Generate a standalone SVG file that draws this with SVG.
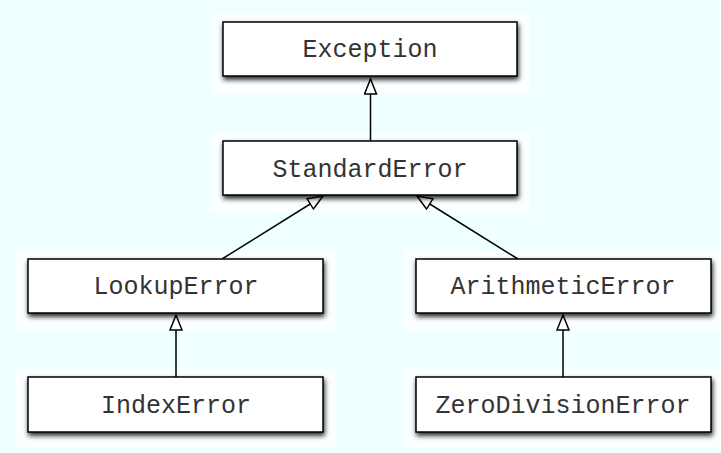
<svg xmlns="http://www.w3.org/2000/svg" width="721" height="453" viewBox="0 0 721 453">
<style>
.halo{fill:#fbffff;}
.box{fill:#ffffff;stroke:#000;stroke-width:1.5;filter:url(#sh);}
.lbl{font-family:"Liberation Mono","Courier New",monospace;font-size:25px;fill:#333;text-anchor:middle;}
.edge{stroke:#000;stroke-width:1.5;fill:none;marker-end:url(#tri);}
</style>
<defs>
<filter id="sh" x="-5%" y="-15%" width="112%" height="150%">
<feDropShadow dx="1" dy="3" stdDeviation="2.5" flood-color="#000" flood-opacity="0.85"/>
</filter>
<marker id="tri" markerUnits="userSpaceOnUse" markerWidth="18" markerHeight="15" viewBox="-1 -1 18 15" refX="15" refY="6" orient="auto">
<path d="M0,0 L15,6 L0,12 Z" fill="#fff" stroke="#000" stroke-width="1.5"/>
</marker>
</defs>
<rect x="0" y="0" width="721" height="453" fill="#f0ffff"/>
<g id="halos">
<rect class="halo" x="211" y="14" width="319" height="79"/>
<rect class="halo" x="211" y="133" width="319" height="79"/>
<rect class="halo" x="16" y="251" width="319" height="79"/>
<rect class="halo" x="404" y="251" width="319" height="79"/>
<rect class="halo" x="16" y="369" width="319" height="79"/>
<rect class="halo" x="404" y="369" width="319" height="79"/>
</g>
<g id="connectors">
<line class="edge" x1="370.5" y1="141" x2="370.5" y2="79"/>
<line class="edge" x1="222" y1="259" x2="323" y2="196"/>
<line class="edge" x1="518" y1="259" x2="417" y2="196"/>
<line class="edge" x1="176" y1="377" x2="176" y2="315"/>
<line class="edge" x1="563" y1="377" x2="563" y2="315"/>
</g>
<g id="node-exception">
<rect class="box" x="223" y="22" width="294" height="54"/>
<text class="lbl" x="370" y="57">Exception</text>
</g>
<g id="node-standarderror">
<rect class="box" x="223" y="141" width="294" height="54"/>
<text class="lbl" x="370" y="177">StandardError</text>
</g>
<g id="node-lookuperror">
<rect class="box" x="28" y="259" width="295" height="54"/>
<text class="lbl" x="176" y="294">LookupError</text>
</g>
<g id="node-arithmeticerror">
<rect class="box" x="416" y="259" width="295" height="54"/>
<text class="lbl" x="563" y="294">ArithmeticError</text>
</g>
<g id="node-indexerror">
<rect class="box" x="28" y="377" width="295" height="55"/>
<text class="lbl" x="176" y="413">IndexError</text>
</g>
<g id="node-zerodivisionerror">
<rect class="box" x="416" y="377" width="295" height="55"/>
<text class="lbl" x="563" y="413">ZeroDivisionError</text>
</g>
</svg>
